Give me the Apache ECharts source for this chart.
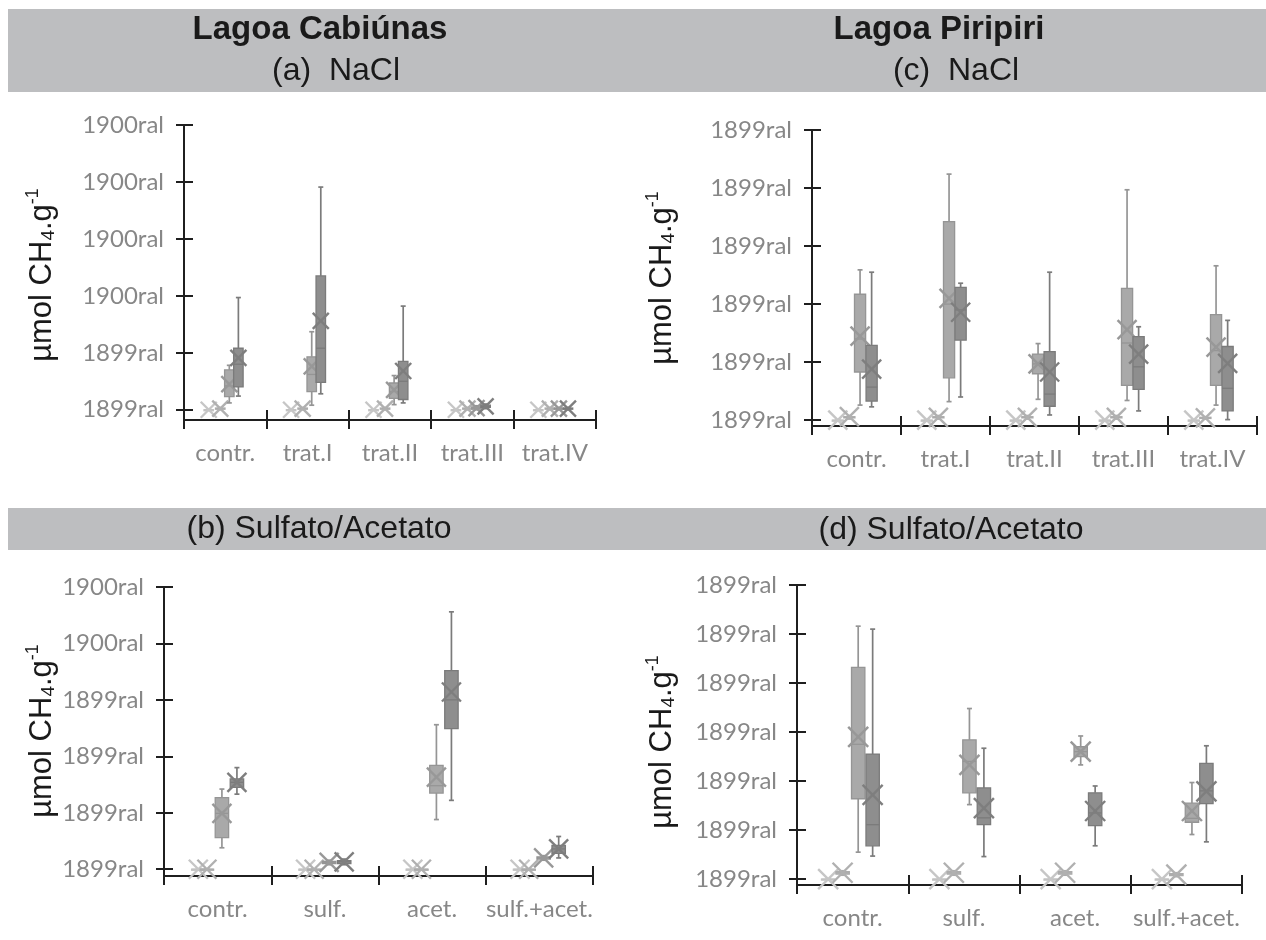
<!DOCTYPE html>
<html><head><meta charset="utf-8">
<script src="https://cdn.jsdelivr.net/npm/echarts@6/dist/echarts.min.js"></script>
<style>html,body{margin:0;padding:0;background:#fff}#c{width:1266px;height:940px}</style>
</head><body><div id="c"></div>
<script>
// ---------- categories & tick labels ----------
const catsNaCl = ['contr.', 'trat.I', 'trat.II', 'trat.III', 'trat.IV'];
const catsSA = ['contr.', 'sulf.', 'acet.', 'sulf.+acet.'];
const ticksA = ['1899ral', '1899ral', '1900ral', '1900ral', '1900ral', '1900ral'];
const ticksB = ['1899ral', '1899ral', '1899ral', '1899ral', '1900ral', '1900ral'];
const ticksC = ['1899ral', '1899ral', '1899ral', '1899ral', '1899ral', '1899ral'];
const ticksD = ['1899ral', '1899ral', '1899ral', '1899ral', '1899ral', '1899ral', '1899ral'];

// ---------- data: [min, q1, median, q3, max, mean] (in tick units) ----------
// (a) Lagoa Cabiúnas - NaCl
const a_s1 = [[0,0,0,0,0,0],[0,0,0,0,0,0],[0,0,0,0,0,0],[0,0,0,0,0,0],[0,0,0,0,0,0]];
const a_s2 = [[0,0.01,0.02,0.03,0.04,0.02],[0,0.01,0.02,0.03,0.04,0.02],[0,0.01,0.02,0.03,0.04,0.02],[0,0.01,0.02,0.03,0.04,0.02],[0,0.01,0.02,0.03,0.04,0.02]];
const a_s3 = [[0.12,0.23,0.42,0.70,0.78,0.45],[0.08,0.32,0.62,0.93,1.37,0.76],[0.09,0.20,0.32,0.47,0.60,0.35],[0,0.01,0.03,0.05,0.07,0.03],[0,0.01,0.02,0.03,0.04,0.02]];
const a_s4 = [[0.24,0.40,0.80,1.08,1.97,0.91],[0.28,0.48,1.08,2.35,3.91,1.56],[0.12,0.18,0.50,0.85,1.82,0.68],[0.02,0.04,0.06,0.08,0.10,0.06],[0,0.01,0.02,0.03,0.04,0.02]];
// (c) Lagoa Piripiri - NaCl
const c_s1 = [[0,0,0,0,0,0],[0,0,0,0,0,0],[0,0,0,0,0,0],[0,0,0,0,0,0],[0,0,0,0,0,0]];
const c_s2 = [[0.02,0.04,0.05,0.06,0.08,0.06],[0.02,0.04,0.05,0.06,0.08,0.05],[0.02,0.04,0.05,0.06,0.08,0.05],[0.02,0.04,0.05,0.06,0.08,0.05],[0.02,0.03,0.04,0.05,0.06,0.04]];
const c_s3 = [[0.26,0.83,1.40,2.17,2.59,1.45],[0.32,0.73,2.00,3.42,4.24,2.10],[0.36,0.80,0.97,1.14,1.32,0.97],[0.34,0.60,1.33,2.27,3.97,1.56],[0.26,0.60,1.20,1.82,2.66,1.26]];
const c_s4 = [[0.23,0.33,0.57,1.29,2.55,0.88],[0.40,1.38,1.90,2.29,2.36,1.86],[0.09,0.24,0.45,1.18,2.55,0.83],[0.16,0.53,0.92,1.44,1.61,1.14],[0.01,0.16,0.55,1.27,1.72,0.98]];
// (b) Lagoa Cabiúnas - Sulfato/Acetato
const b_s1 = [[0,0,0,0,0,0],[0,0,0,0,0,0],[0,0,0,0,0,0],[0,0,0,0,0,0]];
const b_s2 = [[0,0,0,0,0,0],[0,0,0,0,0,0],[0,0,0,0,0,0],[0,0,0,0,0,0]];
const b_s3 = [[0.38,0.56,0.99,1.27,1.42,0.99],[0.08,0.10,0.12,0.14,0.16,0.12],[0.88,1.35,1.48,1.84,2.56,1.63],[0.16,0.18,0.20,0.22,0.24,0.20]];
const b_s4 = [[1.33,1.45,1.54,1.60,1.80,1.54],[0.08,0.10,0.13,0.15,0.18,0.13],[1.22,2.49,3.00,3.52,4.56,3.14],[0.20,0.28,0.36,0.42,0.58,0.36]];
// (d) Lagoa Piripiri - Sulfato/Acetato
const d_s1 = [[0,0,0,0,0,0],[0,0,0,0,0,0],[0,0,0,0,0,0],[0,0,0,0,0,0]];
const d_s2 = [[0.08,0.10,0.13,0.15,0.17,0.13],[0.08,0.10,0.13,0.15,0.17,0.13],[0.08,0.10,0.13,0.15,0.17,0.13],[0.05,0.07,0.09,0.11,0.13,0.09]];
const d_s3 = [[0.55,1.64,2.75,4.32,5.16,2.90],[1.52,1.76,2.40,2.84,3.48,2.33],[2.33,2.50,2.60,2.70,2.92,2.60],[0.91,1.16,1.24,1.55,1.97,1.39]];
const d_s4 = [[0.47,0.68,1.11,2.55,5.10,1.72],[0.46,1.11,1.25,1.86,2.67,1.45],[0.68,1.09,1.35,1.76,1.90,1.39],[0.76,1.54,1.80,2.36,2.72,1.79]];

// ---------- layout ----------
const panels = [
  {cats: catsNaCl, ticks: ticksA, data: [a_s1, a_s2, a_s3, a_s4], grid: {left: 184, top: 125, width: 412, height: 295}, min: -0.18, offs: [0.30, 0.44, 0.55, 0.66], bw: 0.115, xh: 8},
  {cats: catsNaCl, ticks: ticksC, data: [c_s1, c_s2, c_s3, c_s4], grid: {left: 812, top: 130, width: 445, height: 296}, min: -0.10, offs: [0.29, 0.42, 0.54, 0.67], bw: 0.125, xh: 9.5},
  {cats: catsSA, ticks: ticksB, data: [b_s1, b_s2, b_s3, b_s4], grid: {left: 164, top: 587, width: 429, height: 289}, min: -0.12, offs: [0.32, 0.40, 0.54, 0.68], bw: 0.125, xh: 9.5},
  {cats: catsSA, ticks: ticksD, data: [d_s1, d_s2, d_s3, d_s4], grid: {left: 797, top: 585, width: 445, height: 300}, min: -0.12, offs: [0.28, 0.41, 0.55, 0.68], bw: 0.12, xh: 10}
];
const styles = [
  {fill: '#d0d0d0', border: '#c2c2c2', mean: '#c6c6c6'},
  {fill: '#b9b9b9', border: '#acacac', mean: '#b0b0b0'},
  {fill: '#a9a9a9', border: '#959595', mean: '#989898'},
  {fill: '#8e8e8e', border: '#7b7b7b', mean: '#7e7e7e'}
];
const AX = '#1f1f1f';
const LBL = '#878787';
const FONT = 'Lato, "Open Sans", sans-serif';

function renderer(off, wFrac, xh, st) {
  return function (params, api) {
    const ci = api.value(0);
    const band = api.size([1, 0])[0];
    const cx = api.coord([ci, 0])[0] - band / 2 + band * off;
    const bw = band * wFrac;
    const Y = k => api.coord([ci, api.value(k)])[1];
    const yMin = Y(1), yQ1 = Y(2), yMed = Y(3), yQ3 = Y(4), yMax = Y(5), yMean = Y(6);
    const ls = {stroke: st.border, lineWidth: 1.7};
    const ch = [];
    ch.push({type: 'line', shape: {x1: cx, y1: yMax, x2: cx, y2: yQ3}, style: ls});
    ch.push({type: 'line', shape: {x1: cx, y1: yQ1, x2: cx, y2: yMin}, style: ls});
    ch.push({type: 'line', shape: {x1: cx - 2.5, y1: yMax, x2: cx + 2.5, y2: yMax}, style: ls});
    ch.push({type: 'line', shape: {x1: cx - 2.5, y1: yMin, x2: cx + 2.5, y2: yMin}, style: ls});
    ch.push({type: 'rect', shape: {x: cx - bw / 2, y: yQ3, width: bw, height: Math.max(yQ1 - yQ3, 1)}, style: {fill: st.fill, stroke: st.border, lineWidth: 1.3}});
    ch.push({type: 'line', shape: {x1: cx - bw / 2, y1: yMed, x2: cx + bw / 2, y2: yMed}, style: {stroke: st.border, lineWidth: 1.3}});
    const ms = {stroke: st.mean, lineWidth: 2.4};
    ch.push({type: 'line', shape: {x1: cx - xh, y1: yMean - xh, x2: cx + xh, y2: yMean + xh}, style: ms});
    ch.push({type: 'line', shape: {x1: cx - xh, y1: yMean + xh, x2: cx + xh, y2: yMean - xh}, style: ms});
    return {type: 'group', children: ch};
  };
}

const grid = [], xAxis = [], yAxis = [], series = [];
panels.forEach((p, i) => {
  grid.push(Object.assign({containLabel: false}, p.grid));
  const nT = p.ticks.length;
  const tickVals = p.ticks.map((_, k) => k);
  const lineStyle = {color: AX, width: 2};
  xAxis.push({gridIndex: i, type: 'category', data: p.cats, position: 'bottom',
    axisLine: {show: true, onZero: false, lineStyle},
    axisTick: {show: true, interval: 0, length: 9, lineStyle},
    axisLabel: {interval: 0, margin: 21, color: LBL, fontFamily: FONT, fontSize: 24},
    splitLine: {show: false}});
  xAxis.push({gridIndex: i, type: 'category', data: p.cats, position: 'bottom',
    axisLine: {show: false, onZero: false},
    axisTick: {show: true, inside: true, interval: 0, length: 10, lineStyle},
    axisLabel: {show: false}, splitLine: {show: false}});
  yAxis.push({gridIndex: i, type: 'value', min: p.min, max: nT - 1, position: 'left',
    axisLine: {show: true, lineStyle},
    axisTick: {show: true, length: 8, customValues: tickVals, lineStyle},
    axisLabel: {customValues: tickVals, formatter: v => p.ticks[Math.round(v)], margin: 20,
      color: LBL, fontFamily: FONT, fontSize: 24},
    splitLine: {show: false}});
  yAxis.push({gridIndex: i, type: 'value', min: p.min, max: nT - 1, position: 'left',
    axisLine: {show: false},
    axisTick: {show: true, inside: true, length: 9, customValues: tickVals, lineStyle},
    axisLabel: {show: false}, splitLine: {show: false}});
  p.data.forEach((arr, s) => {
    series.push({type: 'custom', xAxisIndex: 2 * i, yAxisIndex: 2 * i,
      renderItem: renderer(p.offs[s], p.bw, p.xh, styles[s]),
      encode: {x: 0, y: [1, 2, 3, 4, 5, 6]},
      data: arr.map((d, k) => [k].concat(d)), z: 2 + s, silent: true});
  });
});

const titleFont = '"Liberation Sans", Arial, sans-serif';
function txt(text, x, y, size, bold) {
  return {type: 'text', x, y, z: 10, style: {text, fill: '#1a1a1a', font: (bold ? 'bold ' : '') + size + 'px ' + titleFont, textAlign: 'center', textVerticalAlign: 'middle'}};
}
function yName(x, y) {
  return {type: 'text', x, y, rotation: Math.PI / 2, z: 10,
    style: {text: '{n|µmol CH}{s|4}{n|.g}{p|-1}', fill: '#1a1a1a', textAlign: 'center', textVerticalAlign: 'middle',
      rich: {
        n: {fontSize: 31, fontFamily: titleFont, fill: '#1a1a1a', lineHeight: 36, verticalAlign: 'middle'},
        s: {fontSize: 19, fontFamily: titleFont, fill: '#1a1a1a', lineHeight: 36, verticalAlign: 'bottom', padding: [0, 0, 2, 0]},
        p: {fontSize: 18, fontFamily: titleFont, fill: '#1a1a1a', lineHeight: 36, verticalAlign: 'top'}
      }}};
}
const graphic = [
  {type: 'rect', shape: {x: 8, y: 9, width: 1258, height: 83}, style: {fill: '#bdbec0'}, z: 0},
  {type: 'rect', shape: {x: 8, y: 508, width: 1258, height: 42}, style: {fill: '#bdbec0'}, z: 0},
  txt('Lagoa Cabiúnas', 320, 30, 33, true),
  txt('(a)  NaCl', 336, 71, 32, false),
  txt('Lagoa Piripiri', 939, 30, 33, true),
  txt('(c)  NaCl', 956, 71, 32, false),
  txt('(b) Sulfato/Acetato', 319, 529, 32, false),
  txt('(d) Sulfato/Acetato', 951, 530, 32, false),
  yName(42, 275), yName(662, 278), yName(42, 731), yName(662, 742)
];

const chart = echarts.init(document.getElementById('c'), null, {renderer: 'canvas'});
chart.setOption({animation: false, backgroundColor: '#fff', grid, xAxis, yAxis, series, graphic});
</script></body></html>
